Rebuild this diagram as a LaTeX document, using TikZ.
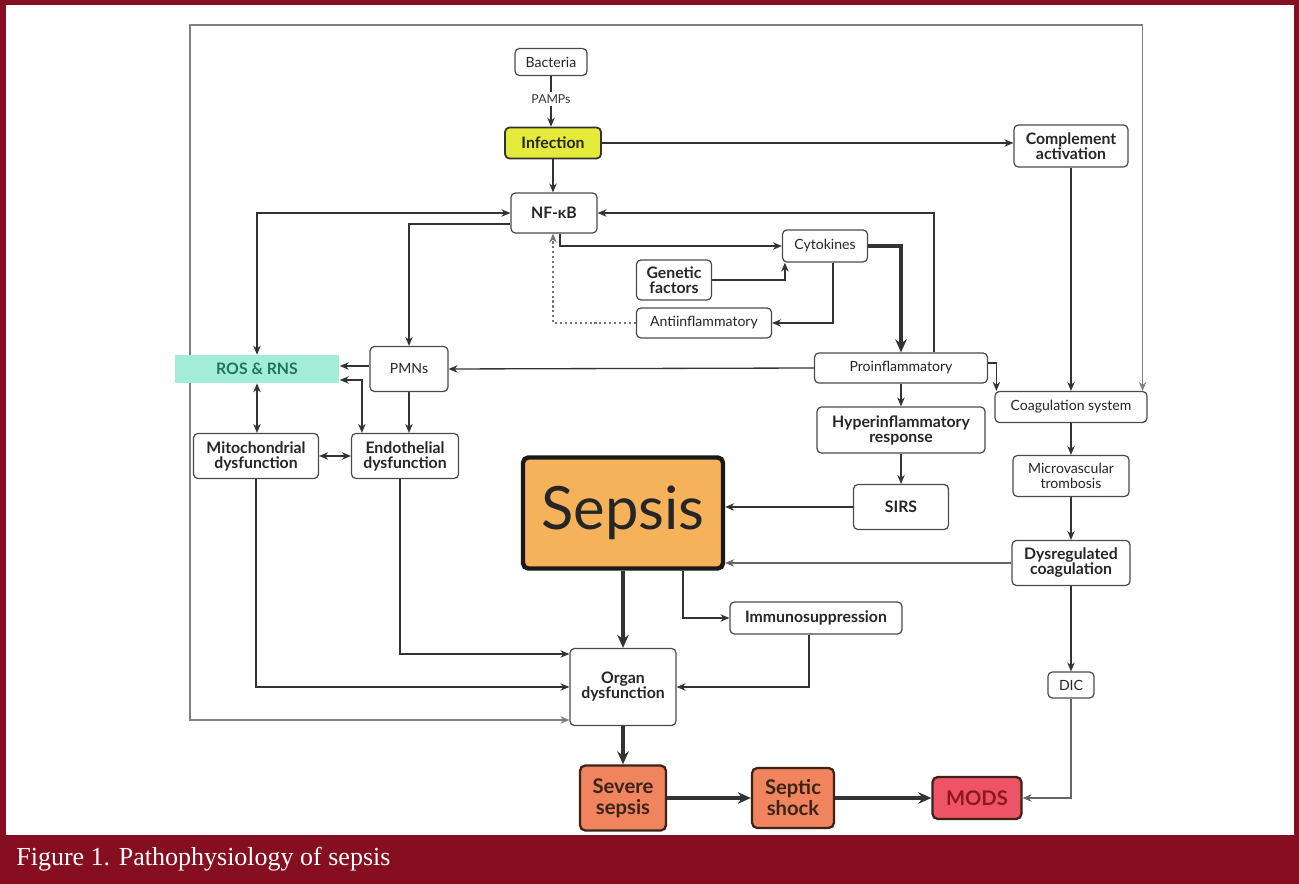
\documentclass[tikz,border=0pt]{standalone}
\usepackage{fontspec}
\setmainfont{Lato}
\newfontfamily\legendfont{Liberation Serif}
\usepackage{tikz}
\usetikzlibrary{arrows.meta,calc,backgrounds}
\definecolor{grena}{HTML}{850E20}
\definecolor{contur}{HTML}{4A4A4A}
\definecolor{linie}{HTML}{333333}
\definecolor{galben}{HTML}{E3EA3A}
\definecolor{menta}{HTML}{A3EDD6}
\definecolor{tealinchis}{HTML}{1F7560}
\definecolor{portocaliu}{HTML}{F6B15B}
\definecolor{somon}{HTML}{F0845E}
\definecolor{brunet}{HTML}{3A2418}
\definecolor{rosu}{HTML}{EF5466}
\definecolor{visiniu}{HTML}{8E1820}
\tikzset{
  caseta/.style   = {draw=contur, line width=0.7pt, rounded corners=2.5pt, align=center,
                     inner sep=0pt, fill=white, text=black!85,
                     font=\fontsize{8}{8.5}\selectfont},
  casetag/.style  = {caseta, font=\fontsize{9}{8.5}\selectfont\bfseries},
  finala/.style   = {draw=brunet, line width=1.3pt, rounded corners=3pt, align=center,
                     inner sep=0pt, fill=somon, text=brunet,
                     font=\fontsize{11.5}{12}\selectfont\bfseries},
  leg/.style      = {-{Stealth[length=1.8mm, width=1.5mm]}, draw=linie, line width=0.75pt},
  leggros/.style  = {-{Stealth[length=2.6mm, width=2.3mm]}, draw=linie, line width=2pt},
  legpunct/.style = {leg, draw=black!55, dash pattern=on 1.2pt off 1.6pt},
  legdubla/.style = {{Stealth[length=1.8mm, width=1.5mm]}-{Stealth[length=1.8mm, width=1.5mm]},
                     draw=linie, line width=0.75pt},
  cadru/.style    = {legdubla, draw=black!50, line width=0.6pt}
}
\begin{document}
\begin{tikzpicture}[x=0.02cm, y=-0.02cm]
        \useasboundingbox (0,0) rectangle (1299,884);
        \node[caseta, minimum width=14.4mm, minimum height=5.4mm] (bact) at (551,62) {Bacteria};
        \node[font=\fontsize{7}{8}\selectfont, inner sep=1.5pt, text=black!80] (pamps) at (551,99) {PAMPs};
        \node[casetag, fill=galben, draw=black!80, line width=1pt, minimum width=19.2mm, minimum height=6.2mm] (inf) at (553,143) {Infection};
        \node[casetag, minimum width=17.2mm, minimum height=8mm] (nfkb) at (554,213) {NF-κB};
        \node[casetag, minimum width=22.8mm, minimum height=8.4mm] (comp) at (1071,146) {Complement\\activation};
        \node[caseta, minimum width=17mm, minimum height=6.4mm] (cyto) at (825,246) {Cytokines};
        \node[casetag, minimum width=15mm, minimum height=8mm] (gen) at (674,280) {Genetic\\factors};
        \node[caseta, minimum width=27mm, minimum height=6mm] (anti) at (704,323) {Antiinflammatory};
        \node[fill=menta, text=tealinchis, font=\fontsize{9}{9}\selectfont\bfseries, minimum width=33mm, minimum height=5.6mm] (ros) at (257,369) {ROS \& RNS};
        \node[caseta, minimum width=15.6mm, minimum height=9mm] (pmn) at (409,369) {PMNs};
        \node[caseta, minimum width=34.6mm, minimum height=6mm] (pro) at (901,368) {Proinflammatory};
        \node[caseta, minimum width=30.4mm, minimum height=6.2mm] (coag) at (1071,407) {Coagulation system};
        \node[casetag, minimum width=25mm, minimum height=9mm] (mito) at (256,456) {Mitochondrial\\dysfunction};
        \node[casetag, minimum width=21.4mm, minimum height=9mm] (endo) at (405,456) {Endothelial\\dysfunction};
        \node[casetag, minimum width=33.6mm, minimum height=9.2mm] (hyper) at (901,430) {Hyperinflammatory\\response};
        \node[casetag, minimum width=19mm, minimum height=9mm] (sirs) at (901,507) {SIRS};
        \node[draw=black!90, line width=2.5pt, rounded corners=3pt, fill=portocaliu, text=black!85, minimum width=40mm, minimum height=22.2mm, font=\fontsize{34}{34}\selectfont] (sep) at (623,513) {Sepsis};
        \node[caseta, minimum width=23.2mm, minimum height=8.2mm] (micro) at (1071,476) {Microvascular\\trombosis};
        \node[casetag, minimum width=23.6mm, minimum height=9mm] (dys) at (1071,563) {Dysregulated\\coagulation};
        \node[casetag, minimum width=34.4mm, minimum height=6.4mm] (imm) at (816,618) {Immunosuppression};
        \node[casetag, minimum width=21.2mm, minimum height=15.4mm] (org) at (623,687) {Organ\\dysfunction};
        \node[caseta, minimum width=9.2mm, minimum height=5.2mm] (dic) at (1071,685) {DIC};
        \node[finala, minimum width=17.2mm, minimum height=13mm] (sev) at (623,798) {Severe\\sepsis};
        \node[finala, minimum width=16.4mm, minimum height=12mm] (shock) at (793,798) {Septic\\shock};
        \node[finala, fill=rosu, text=visiniu, minimum width=17.8mm, minimum height=8.4mm] (mods) at (977,798) {MODS};
        \node[anchor=west, text=white, inner sep=0pt, font=\legendfont\fontsize{14.8}{17}\selectfont] (titlu) at (16,859) {Figure 1. Pathophysiology of sepsis};
        \coordinate (colt) at (190,25);

        \draw[leg, -] (bact) -- (pamps);
        \draw[leg] (pamps) -- (pamps |- inf.north);
        \draw[leg] (inf.south) -- (inf.south |- nfkb.north);
        \draw[leg] (inf.east) -- (inf.east -| comp.west);
        \draw[leg] (comp.south) -- (coag.north);
        \draw[legdubla] (ros.north) |- (nfkb.west);
        \draw[leg] ($(nfkb.west)+(0,11)$) -| (pmn.north);
        \draw[leg] ($(nfkb.south)+(6,0)$) |- (cyto.west);
        \draw[legpunct] (anti.west) -| ($(nfkb.south)+(-1,0)$);
        \draw[leg] (gen.east) -| ($(cyto.south west)+(3,0)$);
        \draw[leg] ($(cyto.south)+(8,0)$) |- (anti.east);
        \draw[leggros] (cyto.east) -| (pro.north);
        \draw[leg] ($(pro.north)+(33,0)$) |- (nfkb.east);
        \draw[leg] (pro.west) -- (pmn.east);
        \draw[leg] ($(pro.east)+(0,-5)$) -| ($(coag.north west)+(2,0)$);
        \draw[leg] (pro) -- (hyper);
        \draw[leg] (hyper) -- (sirs);
        \draw[leg] (sirs.west) -- (sirs.west -| sep.east);
        \draw[leg] (coag) -- (micro);
        \draw[leg] (micro) -- (dys);
        \draw[leg] (dys) -- (dic);
        \draw[leg, draw=black!60] (dys.west) -- (dys.west -| sep.east);
        \draw[leg, draw=black!60] (dic.south) |- (mods.east);
        \draw[leggros] (sep) -- (org);
        \draw[leg] ($(sep.south)+(60,0)$) |- (imm.west);
        \draw[leg] ($(imm.south)+(-7,0)$) |- (org.east);
        \draw[leggros] (org) -- (sev);
        \draw[leggros] (sev) -- (shock);
        \draw[leggros] (shock) -- (mods);
        \draw[leg] ($(pmn.west)+(0,-3)$) -- ($(ros.east)+(0,-3)$);
        \draw[legdubla] ($(ros.east)+(0,11)$) -| ($(endo.north west)+(11,0)$);
        \draw[leg] (pmn.south) -- (pmn.south |- endo.north);
        \draw[legdubla] (ros.south) -- (ros.south |- mito.north);
        \draw[legdubla] (mito) -- (endo);
        \draw[leg] (mito.south) |- (org.west);
        \draw[leg] ($(endo.south)+(-5,0)$) |- ($(org.west)+(0,-33)$);

        \begin{scope}[on background layer]
        \fill[grena] (0,0) rectangle (1299,884);
        \fill[white] (6,5) rectangle (1294,835);
        \draw[cadru] ($(org.west)+(0,33)$) -| (colt) -| ($(coag.north east)+(-5,0)$);
        \end{scope}
    \end{tikzpicture}
\end{document}
